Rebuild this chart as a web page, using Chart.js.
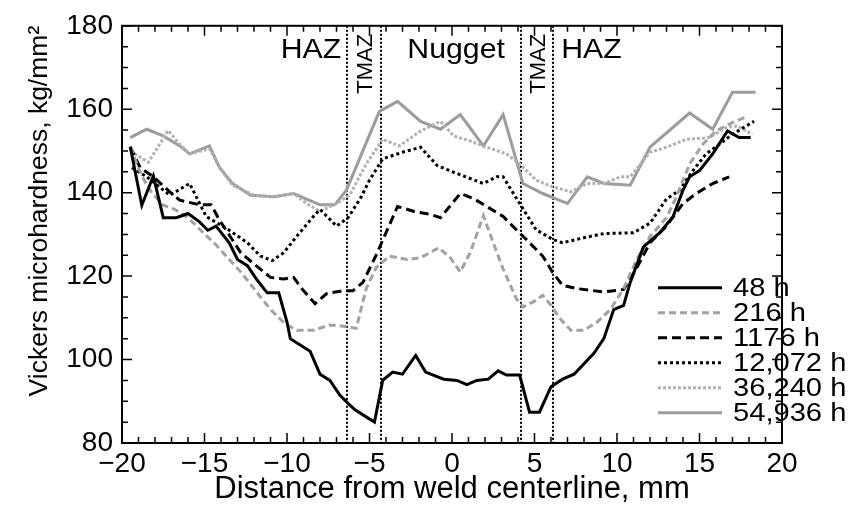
<!DOCTYPE html>
<html>
<head>
<meta charset="utf-8">
<script src="https://cdn.jsdelivr.net/npm/chart.js@4.4.0/dist/chart.umd.min.js"></script>
<style>
  html, body { margin: 0; padding: 0; background: #fff; }
  canvas { display: block; }
</style>
</head>
<body>
<canvas id="myChart" width="856" height="508"></canvas>
<script>
// hardness profiles across the weld (distance in mm, HV in kg/mm2)
var dist48 = [-19.5,-18.8,-18.1,-17.5,-16.7,-16.0,-15.3,-14.8,-14.3,-13.5,-13.0,-12.4,-11.8,-11.2,-10.5,-10.0,-9.8,-9.2,-8.6,-8.0,-7.4,-6.8,-6.3,-5.9,-5.3,-4.7,-4.2,-3.6,-3.0,-2.2,-1.6,-0.5,0.3,0.9,1.5,2.2,2.8,3.3,4.1,4.7,5.3,6.0,6.7,7.4,8.0,8.6,9.2,9.8,10.4,10.8,11.6,12.6,13.4,14.0,14.4,15.0,15.8,16.7,17.4,18.1];
var hv48 = [151,137,144,134,134,135,133,131,132,128,124,122.5,119,116,116,109,105,103.5,102,96.5,95,91.5,89.5,88,86.5,85,95,97,96.5,101,97,95.3,95,94,95,95.3,97.3,96.3,96.3,87.4,87.4,93.5,95.3,96.5,99,101.5,105,112,113,118.5,127,130.4,134.3,140.6,143.8,145.3,149.3,154.8,153.2,153.2];

var dist216 = [-19.5,-18.8,-18.2,-17.5,-16.8,-16.0,-15.1,-14.3,-13.5,-12.8,-12.0,-11.0,-10.1,-9.4,-8.4,-7.4,-6.6,-5.8,-5.2,-4.6,-3.8,-2.7,-1.9,-0.8,-0.1,0.5,1.1,1.9,2.5,3.1,3.9,4.3,5.0,5.5,6.0,6.5,7.2,8.0,8.8,9.6,10.4,11.2,12.0,13.0,13.6,14.4,15.2,16.0,17.0,17.9];
var hv216 = [151,144,140,137,136,134,130.5,127.5,124,121,117,112,108.5,107,107,108.3,108,107.5,117,122,124.8,124,124.4,126.8,124.4,121,125.6,134.5,128,121.7,114.6,112.6,114,115.4,113,110,107,107,109,112,117,124,129.5,134,139,146.9,151.6,154.8,156.8,158.3];

var dist1176 = [-19.5,-18.9,-18.1,-17.1,-16.5,-15.3,-14.6,-14.1,-12.8,-12.0,-11.0,-10.2,-9.6,-9.1,-8.3,-7.6,-6.6,-6.0,-5.4,-4.6,-4.0,-3.3,-2.3,-1.3,-0.7,0.5,1.3,2.1,3.1,3.9,4.5,5.5,6.1,6.7,7.6,9.2,10.4,11.2,12.0,13.0,14.0,14.8,15.8,16.8];
var hv1176 = [151,146,143.8,140.2,138.2,137.1,137.1,133.5,125.6,122.9,119.7,119.3,119.7,117,113.4,115.8,116.5,116.5,118.5,125,130.4,136.7,135.5,134.8,134,139.8,138.6,136.7,134.3,131.1,128.8,124.8,120.9,117.8,117,116.2,116.8,122,128,132,137.4,139.8,142.2,143.8];

var dist12072 = [-19.4,-18.5,-17.1,-15.9,-14.9,-13.5,-12.4,-11.6,-10.9,-10.2,-9.4,-8.4,-8.0,-7.0,-6.3,-5.5,-5.0,-4.2,-3.0,-1.9,-0.9,0.1,1.1,1.9,2.7,3.1,4.1,5.1,6.1,6.7,8.0,9.2,11.0,12.0,13.0,13.8,14.6,15.4,16.2,17.0,18.3];
var hv12072 = [146,143.8,139.4,142.2,134.3,131,128,124.8,123.7,125.6,129.6,134.3,136,132,134,139,143,148.1,149.7,150.9,146.5,144.9,143.4,142.2,143.8,143.8,137.4,131.1,128.8,128,129.2,130.2,130.4,132.7,138.5,140.6,145.3,149.3,151.6,154,157.1];

var dist36240 = [-19.5,-18.4,-17.2,-16.5,-15.9,-14.7,-14.1,-13.3,-12.0,-10.8,-9.6,-8.8,-8.0,-7.0,-6.2,-5.2,-4.2,-3.2,-1.9,-0.7,0.1,1.1,2.1,3.3,4.1,5.1,6.1,7.2,8.2,9.2,10.2,10.8,12.0,13.0,14.2,15.6,16.6,17.3,18.2];
var hv36240 = [150,147.3,154.9,151.6,149.3,150.5,146.1,141.8,139.4,139,139.8,137.4,135.5,137.4,139.4,146.9,152.8,151.2,154.8,157.1,153.6,152.4,150.9,149.3,146.9,143,141.4,140.2,142.2,142.2,143.8,143.8,149.7,150.9,152.8,153.2,155.6,156,154];

var dist54936 = [-19.5,-18.5,-17.5,-16.5,-15.9,-14.7,-14.1,-13.3,-12.2,-10.8,-9.6,-8.0,-7.1,-6.4,-4.4,-3.3,-1.9,-0.7,0.5,1.9,3.1,4.3,5.5,7.0,8.2,9.2,10.8,12.0,14.4,15.8,17.0,18.4];
var hv54936 = [153.2,155.2,153.6,151.2,149.3,151.2,146.1,142.2,139.4,139,139.8,137.1,137.1,140.6,159.5,161.9,157.1,155.2,158.7,151.2,158.7,142.2,139.8,137.4,143.8,142.2,141.8,150.9,159.1,155.2,164.1,164.1];

var seriesLabels = ['48 h', '216 h', '1176 h', '12,072 h', '36,240 h', '54,936 h'];

// weld zone boundaries and labels (mm)
var zoneEdges = [-6.35, -4.3, 4.2, 6.15];
var zoneNames = ['HAZ', 'Nugget', 'HAZ'];
var zoneCenters = [-8.55, 0.25, 8.45];
var tmazCenters = [-5.27, 5.2];

var FONT = '"Liberation Sans", Arial, Helvetica, sans-serif';

function toPoints(xs, ys) {
  var pts = [];
  for (var i = 0; i < xs.length; i++) {
    pts.push({x: xs[i], y: ys[i]});
  }
  return pts;
}

function minusSign(v) {
  return v < 0 ? '\u2212' + Math.abs(v) : '' + v;
}

// frame, inward ticks, zone markers and the legend
var decorations = {
  id: 'decorations',
  beforeDatasetsDraw: function(chart) {
    var ctx = chart.ctx, a = chart.chartArea, xs = chart.scales.x;
    ctx.save();
    ctx.strokeStyle = '#000';
    ctx.lineWidth = 2;
    ctx.setLineDash([2, 2]);
    zoneEdges.forEach(function(v) {
      var px = Math.round(xs.getPixelForValue(v));
      ctx.beginPath();
      ctx.moveTo(px, a.top);
      ctx.lineTo(px, a.bottom);
      ctx.stroke();
    });
    ctx.restore();
  },
  afterDraw: function(chart) {
    var ctx = chart.ctx, a = chart.chartArea;
    var xs = chart.scales.x, ys = chart.scales.y;
    ctx.save();
    ctx.strokeStyle = '#000';
    ctx.lineWidth = 2;
    ctx.strokeRect(a.left, a.top, a.right - a.left, a.bottom - a.top);

    ctx.lineWidth = 1.5;
    var v, px, len;
    for (v = -20; v <= 20; v += 1) {
      px = xs.getPixelForValue(v);
      len = (v % 5 === 0) ? 10 : 6;
      ctx.beginPath();
      ctx.moveTo(px, a.bottom); ctx.lineTo(px, a.bottom - len);
      ctx.moveTo(px, a.top); ctx.lineTo(px, a.top + len);
      ctx.stroke();
    }
    for (v = 80; v <= 180; v += 5) {
      px = ys.getPixelForValue(v);
      len = (v % 20 === 0) ? 10 : 6;
      ctx.beginPath();
      ctx.moveTo(a.left, px); ctx.lineTo(a.left + len, px);
      ctx.moveTo(a.right, px); ctx.lineTo(a.right - len, px);
      ctx.stroke();
    }

    // zone names
    ctx.fillStyle = '#000';
    ctx.textAlign = 'center';
    ctx.textBaseline = 'alphabetic';
    ctx.font = '28px ' + FONT;
    zoneNames.forEach(function(name, i) {
      ctx.save();
      ctx.translate(xs.getPixelForValue(zoneCenters[i]), a.top + 32);
      ctx.scale(1.08, 1);
      ctx.fillText(name, 0, 0);
      ctx.restore();
    });
    ctx.font = '22px ' + FONT;
    ctx.textBaseline = 'middle';
    tmazCenters.forEach(function(c) {
      ctx.save();
      ctx.translate(xs.getPixelForValue(c), a.top + 38);
      ctx.rotate(-Math.PI / 2);
      ctx.fillText('TMAZ', 0, 1);
      ctx.restore();
    });

    // legend
    var x0 = a.right - 124, x1 = a.right - 60, tx = a.right - 49, y0 = a.top + 262, step = 25;
    chart.data.datasets.forEach(function(ds, i) {
      var y = y0 + i * step;
      ctx.strokeStyle = ds.borderColor;
      ctx.lineWidth = ds.borderWidth;
      ctx.setLineDash(ds.borderDash || []);
      ctx.beginPath();
      ctx.moveTo(x0, y);
      ctx.lineTo(x1, y);
      ctx.stroke();
      ctx.setLineDash([]);
      ctx.fillStyle = '#000';
      ctx.textAlign = 'left';
      ctx.textBaseline = 'middle';
      ctx.font = '26px ' + FONT;
      ctx.save();
      ctx.translate(tx, y + 1);
      ctx.scale(1.12, 1);
      ctx.fillText(ds.label, 0, 0);
      ctx.restore();
    });
    ctx.restore();
  }
};

var ctx = document.getElementById('myChart').getContext('2d');
var myChart = new Chart(ctx, {
  type: 'line',
  data: {
    datasets: [
      { label: seriesLabels[0], data: toPoints(dist48, hv48), borderColor: '#000000', borderWidth: 3 },
      { label: seriesLabels[1], data: toPoints(dist216, hv216), borderColor: '#a2a2a2', borderWidth: 3, borderDash: [7, 4] },
      { label: seriesLabels[2], data: toPoints(dist1176, hv1176), borderColor: '#000000', borderWidth: 3, borderDash: [9, 5] },
      { label: seriesLabels[3], data: toPoints(dist12072, hv12072), borderColor: '#000000', borderWidth: 3, borderDash: [3, 3] },
      { label: seriesLabels[4], data: toPoints(dist36240, hv36240), borderColor: '#b2b2b2', borderWidth: 3, borderDash: [3, 2] },
      { label: seriesLabels[5], data: toPoints(dist54936, hv54936), borderColor: '#9c9c9c', borderWidth: 3 }
    ]
  },
  options: {
    responsive: false,
    animation: false,
    devicePixelRatio: 1,
    elements: {
      point: { radius: 0 },
      line: { tension: 0, fill: false }
    },
    layout: { padding: { top: 20, right: 74, left: 0, bottom: 0 } },
    plugins: {
      legend: { display: false },
      tooltip: { enabled: false }
    },
    scales: {
      x: {
        type: 'linear',
        min: -20,
        max: 20,
        grid: { display: false, drawTicks: false },
        border: { display: false },
        ticks: {
          stepSize: 5,
          padding: 4,
          color: '#000',
          font: { family: FONT, size: 28 },
          maxRotation: 0,
          callback: function(v) { return minusSign(v); }
        },
        title: {
          display: true,
          text: 'Distance from weld centerline, mm',
          color: '#000',
          font: { family: FONT, size: 31 },
          padding: { top: 0, bottom: 0 }
        },
        afterFit: function(scale) { scale.height = 65; }
      },
      y: {
        min: 80,
        max: 180,
        grid: { display: false, drawTicks: false },
        border: { display: false },
        ticks: {
          stepSize: 20,
          padding: 9,
          color: '#000',
          font: { family: FONT, size: 28 }
        },
        title: {
          display: true,
          text: 'Vickers microhardness, kg/mm\u00b2',
          align: 'end',
          color: '#000',
          font: { family: FONT, size: 26.5 },
          padding: { top: 24, bottom: 0 }
        },
        afterFit: function(scale) { scale.width = 122; }
      }
    }
  },
  plugins: [decorations]
});
</script>
</body>
</html>
